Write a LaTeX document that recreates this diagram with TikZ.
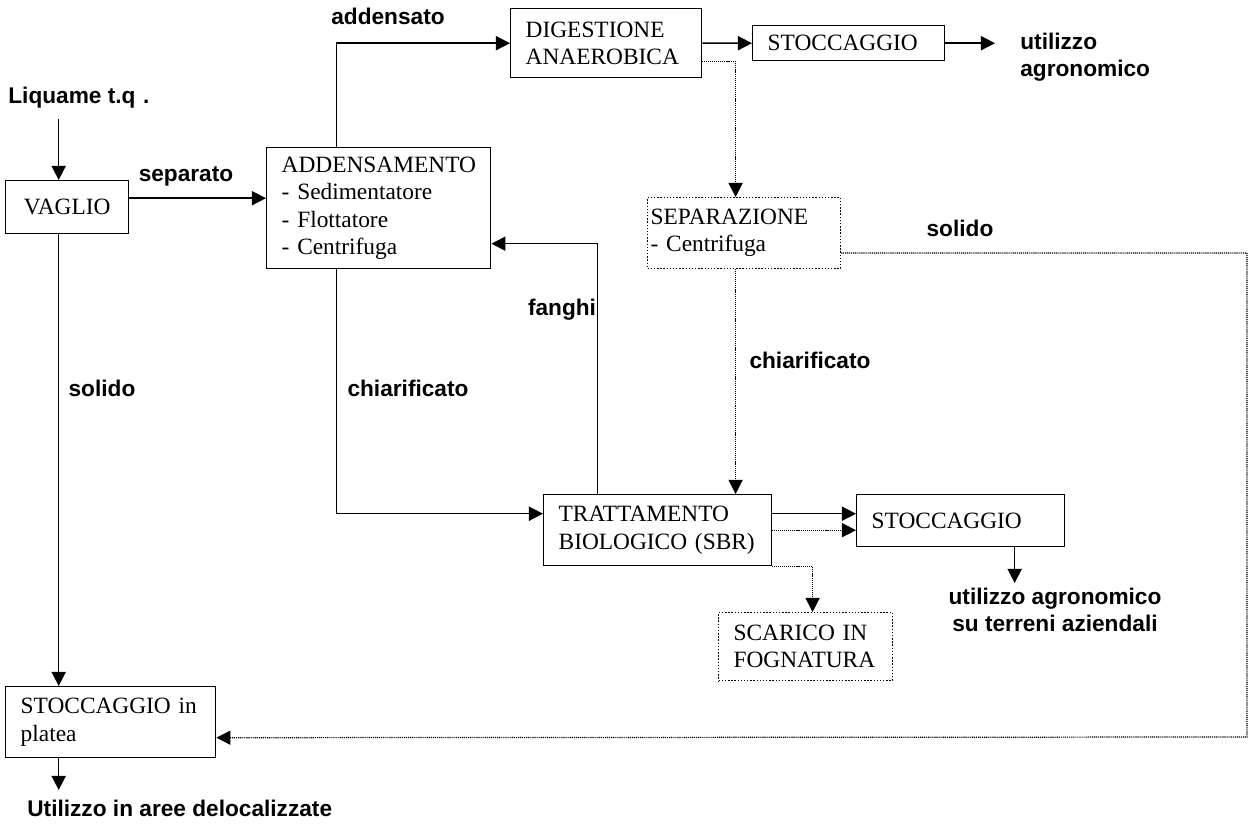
\documentclass[tikz,border=0pt]{standalone}
\usepackage{fontspec}
\setmainfont{Liberation Serif}
\setsansfont{Liberation Sans}
\usepackage{tikz}
\usetikzlibrary{positioning}
\usetikzlibrary{arrows.meta}

\tikzset{
  box/.style={draw,rectangle,anchor=north west,align=left,inner xsep=0.3cm,inner ysep=0pt,line width=0.8pt,font=\fontsize{13.3}{15.5}\selectfont},
  dotbox/.style={box,densely dotted,line width=0.7pt},
  lab/.style={font=\fontsize{12.9}{15.5}\selectfont\sffamily\bfseries,inner sep=0pt},
  arr/.style={-{Triangle[length=8pt,width=8pt]},line width=0.9pt},
  dotarr/.style={-{Triangle[length=8pt,width=8pt]},line width=0.7pt,dash pattern=on 0.6pt off 0.5pt}
}

\begin{document}
\begin{tikzpicture}[x=0.02cm,y=-0.02cm]
		\useasboundingbox (0,0) rectangle (1255,825);
		% boxes
		\node[box,text width=1.86cm,align=center,minimum height=1.06cm] (vaglio) at (5,180) {VAGLIO};
		\node[box,text width=3.88cm,minimum height=2.42cm] (adden) at (266,147) {ADDENSAMENTO\\- Sedimentatore\\- Flottatore\\- Centrifuga};
		\node[box,text width=3.22cm,minimum height=1.38cm] (dig) at (510,8) {DIGESTIONE\\ANAEROBICA};
		\node[box,text width=3.24cm,minimum height=0.70cm] (stoc1) at (752,25) {STOCCAGGIO};
		\node[dotbox,text width=3.74cm,inner xsep=0.06cm,minimum height=1.42cm] (sep) at (647,197) {SEPARAZIONE\\- Centrifuga};
		\node[box,text width=3.96cm,minimum height=1.42cm] (trat) at (543,494) {TRATTAMENTO\\BIOLOGICO (SBR)};
		\node[box,text width=3.56cm,minimum height=1.04cm] (stoc2) at (856,494) {STOCCAGGIO};
		\node[dotbox,text width=2.88cm,minimum height=1.36cm] (scar) at (718,612) {SCARICO IN\\FOGNATURA};
		\node[box,text width=3.60cm,minimum height=1.42cm] (plat) at (5,686) {STOCCAGGIO in\\platea};
		% labels
		\node[lab,anchor=west] (liq) at (8,98) {Liquame t.q\,\,.};
		\node[lab] (separato) at (186,176) {separato};
		\node[lab] (addensato) at (388,16) {addensato};
		\node[lab,anchor=west,align=left] (util1) at (1020,57) {utilizzo\\agronomico};
		\node[lab] (solido1) at (960,228) {solido};
		\node[lab] (chiar1) at (810,360) {chiarificato};
		\node[lab] (chiar2) at (408,388) {chiarificato};
		\node[lab] (fanghi) at (562,310) {fanghi};
		\node[lab] (solido2) at (102,388) {solido};
		\node[lab,align=center] (util2) at (1055,610) {utilizzo agronomico\\su terreni aziendali};
		\node[lab,anchor=west] (util3) at (27,808) {Utilizzo in aree delocalizzate};
		\coordinate (u1) at (995,42);
		\coordinate (u2) at (1014,583);
		\coordinate (u3) at (58,790);
		\coordinate (rc) at (1247,737);
		% solid connectors
		\draw[arr] ([xshift=-0.17cm]vaglio.north |- liq.south) ++(0,-0.2cm) -- ([xshift=-0.17cm]vaglio.north);
		\draw[arr] ([yshift=0.18cm]vaglio.east) -- ([yshift=0.18cm]vaglio.east -| adden.west);
		\draw[arr] ([xshift=-0.84cm]adden.north) |- (dig.west);
		\draw[arr] (dig) -- (stoc1);
		\draw[arr] (stoc1.east) -- (stoc1.east -| u1);
		\draw[arr] ([xshift=-0.84cm]adden.south) |- ([yshift=0.33cm]trat.west);
		\draw[arr] ([xshift=-1.2cm]trat.north) |- ([yshift=-0.71cm]adden.east);
		\draw[arr] ([yshift=0.33cm]trat.east) -- ([yshift=0.33cm]trat.east -| stoc2.west);
		\draw[arr] ([xshift=1.08cm]stoc2.south) -- ([xshift=1.08cm]stoc2.south |- u2);
		\draw[arr] ([xshift=-0.17cm]vaglio.south) -- ([xshift=-0.17cm]vaglio.south |- plat.north);
		\draw[arr] ([xshift=-1.04cm]plat.south) -- ([xshift=-1.04cm]plat.south |- u3);
		% dotted connectors
		\draw[dotarr] ([yshift=-0.36cm]dig.east) -| ([xshift=-0.17cm]sep.north);
		\draw[dotarr] ([xshift=-0.17cm]sep.south) -- ([xshift=-0.17cm]sep.south |- trat.north);
		\draw[dotarr] ([yshift=-0.4cm]sep.east) -| (rc) -- ([yshift=-0.31cm]plat.east);
		\draw[dotarr] (trat.east) -- (trat.east -| stoc2.west);
		\draw[dotarr] (trat.south east) -| ([xshift=0.14cm]scar.north);
    \end{tikzpicture}
\end{document}
